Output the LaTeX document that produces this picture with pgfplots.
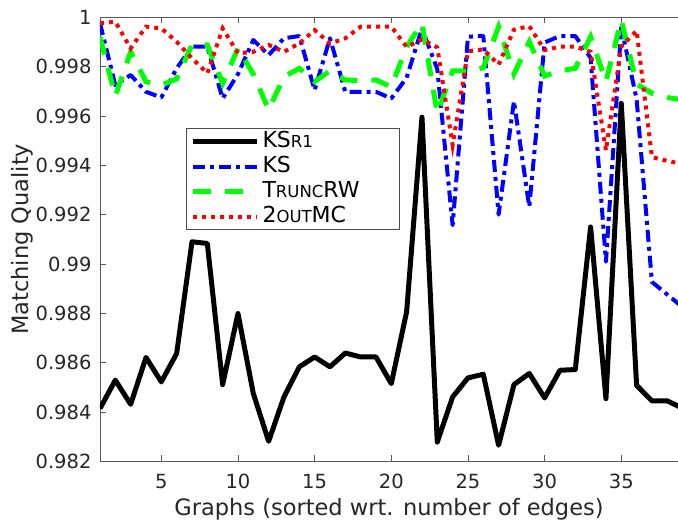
\documentclass[border=0pt]{standalone}
\usepackage{fontspec}
\setmainfont{DejaVu Sans}
\usepackage{pgfplots}
\pgfplotsset{compat=1.18}
\newcommand{\smc}[1]{{\fontsize{16.5pt}{18pt}\selectfont #1}}
\newcommand{\lent}[1]{\makebox[132pt][l]{#1}}

\begin{document}
\begin{tikzpicture}
\begin{axis}[
  name=ax, at={(0,0)}, anchor=south west,
  scale only axis, width=578pt, height=444pt,
  xmin=1, xmax=38.7, ymin=0.982, ymax=1,
  axis x line*=box, axis y line*=left,
  axis line style={-, black!65, line width=0.8pt},
  xtick={5,10,15,20,25,30,35},
  ytick={0.982,0.984,0.986,0.988,0.99,0.992,0.994,0.996,0.998,1},
  yticklabels={0.982,0.984,0.986,0.988,0.99,0.992,0.994,0.996,0.998,1},
  scaled y ticks=false,
  tick align=inside, major tick length=6pt,
  tick style={black!65, line width=0.8pt},
  ytick pos=left,
  /pgf/number format/assume math mode=true,
  ticklabel style={font=\fontsize{19.5pt}{21pt}\selectfont, text=black!85},
  xticklabel style={yshift=-9pt},
  yticklabel style={xshift=-5pt},
  xlabel={Graphs (sorted wrt. number of edges)},
  ylabel={Matching Quality},
  label style={font=\fontsize{22.5pt}{24pt}\selectfont, text=black!85},
  xlabel style={at={(axis description cs:0.5,-0.107)}, anchor=center},
  ylabel style={at={(axis description cs:-0.135,0.5)}, anchor=center},
  legend image code/.code={\draw[#1] (0pt,0pt) -- (64pt,0pt);},
  legend cell align=left,
  legend style={at={(0.149,0.75)}, anchor=north west, draw=black!70, line width=0.8pt,
    fill=white, font=\fontsize{22pt}{24pt}\selectfont, row sep=3pt, column sep=2pt,
    inner xsep=4pt, inner ysep=2pt,
    nodes={inner sep=1pt, text height=16pt, text depth=4pt}},
]
\addplot[black, line width=5pt, line join=round] table[row sep=\\] {
x y\\
1 0.98414\\ 2 0.98529\\ 3 0.98431\\ 4 0.98621\\ 5 0.98522\\ 6 0.98637\\
7 0.99090\\ 8 0.99083\\ 9 0.98511\\ 10 0.98799\\ 11 0.98475\\ 12 0.98281\\
13 0.98461\\ 14 0.98583\\ 15 0.98623\\ 16 0.98583\\ 17 0.98639\\ 18 0.98623\\
19 0.98623\\ 20 0.98515\\ 21 0.98806\\ 22 0.99595\\ 23 0.98278\\ 24 0.98461\\
25 0.98538\\ 26 0.98553\\ 27 0.98265\\ 28 0.98511\\ 29 0.98556\\ 30 0.98457\\
31 0.98569\\ 32 0.98572\\ 33 0.99150\\ 34 0.98454\\ 35 0.99651\\ 36 0.98508\\
37 0.98445\\ 38 0.98445\\ 39 0.98415\\
};
\addplot[blue, line width=4pt, line join=round, dash pattern=on 12pt off 5pt on 4pt off 5pt] table[row sep=\\] {
x y\\
1 0.99976\\ 2 0.99725\\ 3 0.99766\\ 4 0.99698\\ 5 0.99675\\ 6 0.99793\\
7 0.99881\\ 8 0.99881\\ 9 0.99671\\ 10 0.99770\\ 11 0.99908\\ 12 0.99847\\
13 0.99915\\ 14 0.99924\\ 15 0.99705\\ 16 0.99915\\ 17 0.99698\\ 18 0.99698\\
19 0.99698\\ 20 0.99671\\ 21 0.99755\\ 22 0.99955\\ 23 0.99790\\ 24 0.99157\\
25 0.99921\\ 26 0.99925\\ 27 0.99200\\ 28 0.99660\\ 29 0.99232\\ 30 0.99898\\
31 0.99924\\ 32 0.99924\\ 33 0.99836\\ 34 0.99009\\ 35 0.99960\\ 36 0.99668\\
37 0.98927\\ 38 0.98876\\ 39 0.98825\\
};
\addplot[green, line width=5pt, dash pattern=on 18pt off 14pt] table[row sep=\\] {
x y\\
1 0.99920\\ 2 0.99680\\ 3 0.99860\\ 4 0.99739\\ 5 0.99725\\ 6 0.99750\\
7 0.99888\\ 8 0.99888\\ 9 0.99732\\ 10 0.99874\\ 11 0.99770\\ 12 0.99625\\
13 0.99759\\ 14 0.99793\\ 15 0.99739\\ 16 0.99783\\ 17 0.99746\\ 18 0.99743\\
19 0.99746\\ 20 0.99718\\ 21 0.99880\\ 22 0.99976\\ 23 0.99611\\ 24 0.99783\\
25 0.99782\\ 26 0.99795\\ 27 0.99962\\ 28 0.99770\\ 29 0.99901\\ 30 0.99762\\
31 0.99783\\ 32 0.99793\\ 33 0.99921\\ 34 0.99739\\ 35 0.99989\\ 36 0.99730\\
37 0.99692\\ 38 0.99675\\ 39 0.99665\\
};
\addplot[red, line width=4pt, dash pattern=on 4pt off 5pt] table[row sep=\\] {
x y\\
1 0.99976\\ 2 0.99982\\ 3 0.99874\\ 4 0.99962\\ 5 0.99955\\ 6 0.99901\\
7 0.99834\\ 8 0.99773\\ 9 0.99955\\ 10 0.99854\\ 11 0.99860\\ 12 0.99888\\
13 0.99860\\ 14 0.99894\\ 15 0.99948\\ 16 0.99894\\ 17 0.99915\\ 18 0.99962\\
19 0.99962\\ 20 0.99962\\ 21 0.99880\\ 22 0.99910\\ 23 0.99878\\ 24 0.99482\\
25 0.99862\\ 26 0.99870\\ 27 0.99808\\ 28 0.99950\\ 29 0.99964\\ 30 0.99867\\
31 0.99881\\ 32 0.99881\\ 33 0.99860\\ 34 0.99460\\ 35 0.99881\\ 36 0.99946\\
37 0.99433\\ 38 0.99418\\ 39 0.99405\\
};
\legend{\lent{KS\smc{R1}}, \lent{KS}, \lent{T\smc{RUNC}RW}, \lent{2\smc{OUT}MC}}
\end{axis}
\pgfresetboundingbox
\path[use as bounding box] (-100pt,-59pt) rectangle (578pt,461.3pt);
\end{tikzpicture}
\end{document}
